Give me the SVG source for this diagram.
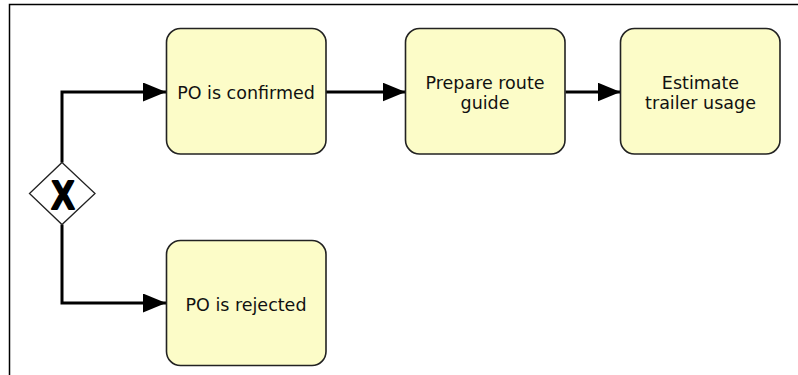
<svg xmlns="http://www.w3.org/2000/svg" width="798" height="375" viewBox="0 0 798 375">
<style>
.task{fill:#fcfcc8;stroke:#222;stroke-width:1.6}
.lbl{font-family:"DejaVu Sans",sans-serif;font-size:17.5px;fill:#111;text-anchor:middle}
.flow{fill:none;stroke:#000;stroke-width:3}
</style>
<defs>
<marker id="arr" markerUnits="userSpaceOnUse" markerWidth="24" markerHeight="20" refX="23" refY="9.5" orient="auto">
<path d="M0,0 L23,9.5 L0,19 Z" fill="#000"/>
</marker>
</defs>
<rect width="798" height="375" fill="#fff"/>
<path d="M9.5,375 V4.5 H798" fill="none" stroke="#000" stroke-width="1.5"/>
<g id="connectors">
<path class="flow" d="M62,162.5 V92 H166" marker-end="url(#arr)"/>
<path class="flow" d="M62,224.5 V303 H166" marker-end="url(#arr)"/>
<path class="flow" d="M326,92 H405.5" marker-end="url(#arr)"/>
<path class="flow" d="M565.5,92 H620.5" marker-end="url(#arr)"/>
</g>
<g id="gateway">
<polygon points="62,162.5 95,193.5 62,224.5 29.5,193.5" fill="#fff" stroke="#222" stroke-width="1.3"/>
<text x="0" y="0" transform="translate(63,208.5) scale(0.86,1)" font-family="Liberation Sans, sans-serif" font-weight="bold" font-size="40" text-anchor="middle" fill="#000" stroke="#000" stroke-width="2" stroke-linejoin="round">X</text>
</g>
<g id="po-confirmed">
<rect class="task" x="166.5" y="28.5" width="159.5" height="125.5" rx="14"/>
<text class="lbl" x="246" y="98.5">PO is confirmed</text>
</g>
<g id="prepare-route">
<rect class="task" x="405.5" y="28.5" width="159.5" height="125.5" rx="14"/>
<text class="lbl" x="485" y="89">Prepare route</text>
<text class="lbl" x="485" y="109">guide</text>
</g>
<g id="estimate-trailer">
<rect class="task" x="620.5" y="28.5" width="159.5" height="125.5" rx="14"/>
<text class="lbl" x="700.5" y="89">Estimate</text>
<text class="lbl" x="700.5" y="109">trailer usage</text>
</g>
<g id="po-rejected">
<rect class="task" x="166.5" y="240.5" width="159.5" height="125" rx="14"/>
<text class="lbl" x="246" y="311">PO is rejected</text>
</g>
</svg>
